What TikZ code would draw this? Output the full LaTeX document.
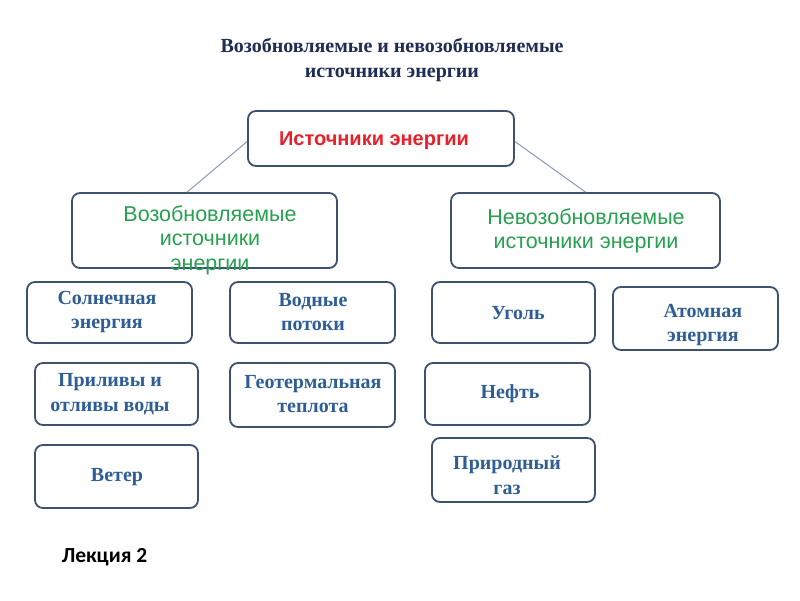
\documentclass[tikz,border=0pt]{standalone}
\usepackage{fontspec}
\setmainfont{Liberation Serif}
\setsansfont{Liberation Sans}
\newfontfamily\calib{Carlito}
\usetikzlibrary{calc}
\definecolor{boxc}{HTML}{3E5270}
\definecolor{linec}{HTML}{8A9AB8}
\definecolor{txtblue}{HTML}{2F5E96}
\definecolor{titlec}{HTML}{1F2D55}
\definecolor{greenc}{HTML}{27A050}
\definecolor{redc}{HTML}{E8202A}
\begin{document}
\begin{tikzpicture}[x=1pt,y=-1pt,
  box/.style={draw=boxc, line width=1.8pt, rounded corners=8pt, inner sep=0pt, fill=white},
  btext/.style={font=\fontsize{20}{24.5}\selectfont\bfseries, text=txtblue, align=center, inner sep=0pt},
  gtext/.style={font=\sffamily\fontsize{21.5}{24.5}\selectfont, text=greenc, align=center, inner sep=0pt},
  rtext/.style={font=\sffamily\bfseries\fontsize{20}{24}\selectfont, text=redc, inner sep=0pt},
  ttext/.style={font=\fontsize{20}{25}\selectfont\bfseries, text=titlec, align=center, inner sep=0pt},
  conn/.style={draw=linec, line width=1pt}
]
\useasboundingbox[fill=white] (0,0) rectangle (800,600);

% title
\node[ttext] (title) at (392,60) {Возобновляемые и невозобновляемые\\источники энергии};

% top box
\node[box, minimum width=266pt, minimum height=55pt] (top) at (381,138.5) {};
\node[rtext] (toptxt) at (374,141) {Источники энергии};

% middle boxes
\node[box, minimum width=265pt, minimum height=75pt] (lb) at (204.5,230.5) {};
\node[gtext] (lbtxt) at (210,240) {Возобновляемые\\источники\\энергии};
\node[box, minimum width=269pt, minimum height=75pt] (rb) at (585.5,230.5) {};
\node[gtext] (rbtxt) at (586,231) {Невозобновляемые\\источники энергии};

% connectors
\coordinate (lend) at ($(lb.north west)!0.435!(lb.north east)$);
\draw[conn] ($(top.west)+(0,3)$) -- (lend);
\draw[conn] ($(top.east)+(0,3)$) -- (rb.north);

% left column
\node[box, minimum width=165pt, minimum height=61pt] (sol) at (109.5,312.5) {};
\node[btext] (soltxt) at (107,312) {Солнечная\\энергия};
\node[box, minimum width=165pt, minimum height=61pt] (vod) at (312.5,312.5) {};
\node[btext] (vodtxt) at (313,312) {Водные\\потоки};
\node[box, minimum width=163pt, minimum height=62pt] (pril) at (116.5,394) {};
\node[btext] (priltxt) at (110,394) {Приливы и\\отливы воды};
\node[box, minimum width=165pt, minimum height=64pt] (geo) at (312.5,395) {};
\node[btext] (geotxt) at (313,394) {Геотермальная\\теплота};
\node[box, minimum width=163pt, minimum height=63pt] (vet) at (116.5,476.5) {};
\node[btext] (vettxt) at (117,477) {Ветер};

% right column
\node[box, minimum width=163pt, minimum height=61pt] (ugol) at (513.5,312.5) {};
\node[btext] (ugoltxt) at (518,313) {Уголь};
\node[box, minimum width=165pt, minimum height=63pt] (atom) at (695.5,318.5) {};
\node[btext] (atomtxt) at (703,325) {Атомная\\энергия};
\node[box, minimum width=165pt, minimum height=62pt] (neft) at (507.5,394) {};
\node[btext] (nefttxt) at (510,394) {Нефть};
\node[box, minimum width=163pt, minimum height=64pt] (gaz) at (513.5,470) {};
\node[btext] (gaztxt) at (507,475) {Природный\\газ};

% footer
\node[font=\calib\bfseries\fontsize{21.5}{25}\selectfont, text=black, inner sep=0pt] (lect) at (104.5,557) {Лекция 2};
\end{tikzpicture}
\end{document}
